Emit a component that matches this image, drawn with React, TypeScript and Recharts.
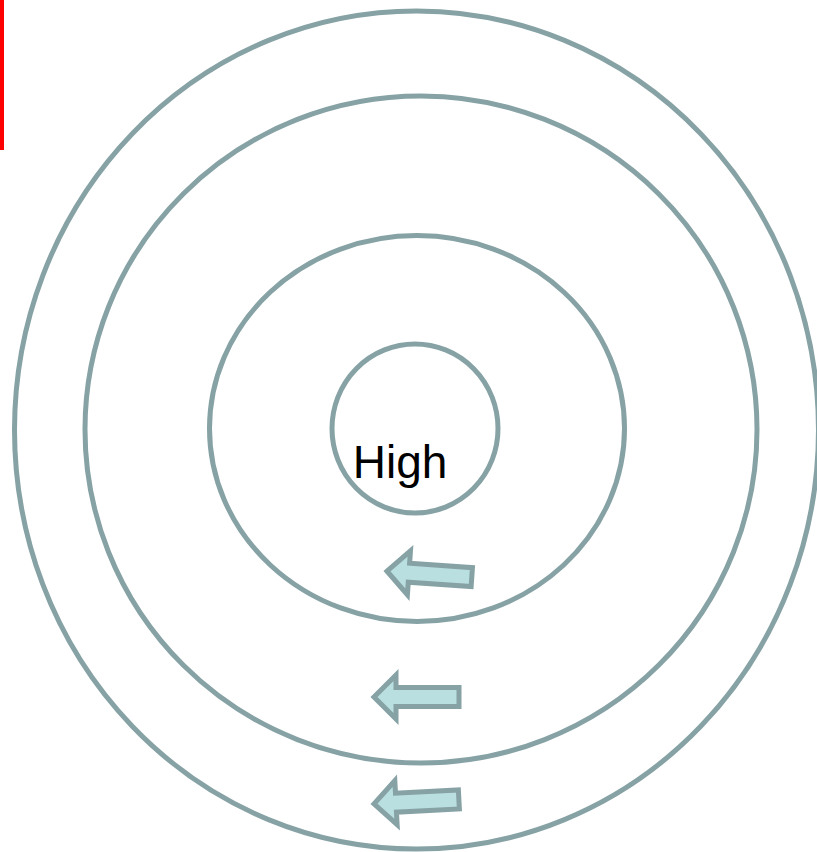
import React from "react";
import { ScatterChart, Scatter, XAxis, YAxis, ReferenceArea } from "recharts";

const W = 817;
const H = 852;

// concentric rings (centre + radii, in px units)
const rings = [
  { name: "outer", x: 416.5, y: 430, rx: 402, ry: 419 },
  { name: "third", x: 421, y: 429.5, rx: 336, ry: 333.5 },
  { name: "second", x: 417, y: 428.5, rx: 207.5, ry: 193 },
  { name: "core", x: 415, y: 428.5, rx: 83, ry: 84.5 },
];

// arrow tips, pointing inwards (left)
const arrows = [
  { x: 384, y: 571, tilt: 4 },
  { x: 371, y: 697, tilt: 0 },
  { x: 371, y: 804, tilt: -3 },
];

const labels = [{ x: 400, y: 478, text: "High" }];

const ringColor = "#86a2a5";
const arrowFill = "#b9dfe1";

// 1 data unit == 1 px since margins are 0 and domains match the size
const KX = W / W;
const KY = H / H;

const RingShape = (props: any) => (
  <ellipse
    cx={props.cx}
    cy={props.cy}
    rx={props.payload.rx * KX}
    ry={props.payload.ry * KY}
    fill="none"
    stroke={ringColor}
    strokeWidth={5}
  />
);

const ArrowShape = (props: any) => (
  <polygon
    transform={`translate(${props.cx},${props.cy}) rotate(${props.payload.tilt})`}
    points="3,0 25,-22 25,-9.5 88,-9.5 88,9.5 25,9.5 25,22"
    fill={arrowFill}
    stroke={ringColor}
    strokeWidth={5}
    strokeLinejoin="miter"
  />
);

const LabelShape = (props: any) => (
  <text
    x={props.cx}
    y={props.cy}
    textAnchor="middle"
    fontSize={46}
    fontFamily="'Liberation Sans', Arial, sans-serif"
    fill="#000"
  >
    {props.payload.text}
  </text>
);

export default function App() {
  return (
    <div style={{ position: "absolute", left: 0, top: 0, background: "#fff" }}>
      <ScatterChart width={W} height={H} margin={{ top: 0, right: 0, bottom: 0, left: 0 }}>
        <XAxis type="number" dataKey="x" domain={[0, W]} hide />
        <YAxis type="number" dataKey="y" domain={[0, H]} reversed hide />
        <ReferenceArea x1={0} x2={4} y1={0} y2={150} fill="#ff0000" fillOpacity={1} stroke="none" />
        <Scatter data={rings} shape={RingShape} isAnimationActive={false} />
        <Scatter data={arrows} shape={ArrowShape} isAnimationActive={false} />
        <Scatter data={labels} shape={LabelShape} isAnimationActive={false} />
      </ScatterChart>
    </div>
  );
}
